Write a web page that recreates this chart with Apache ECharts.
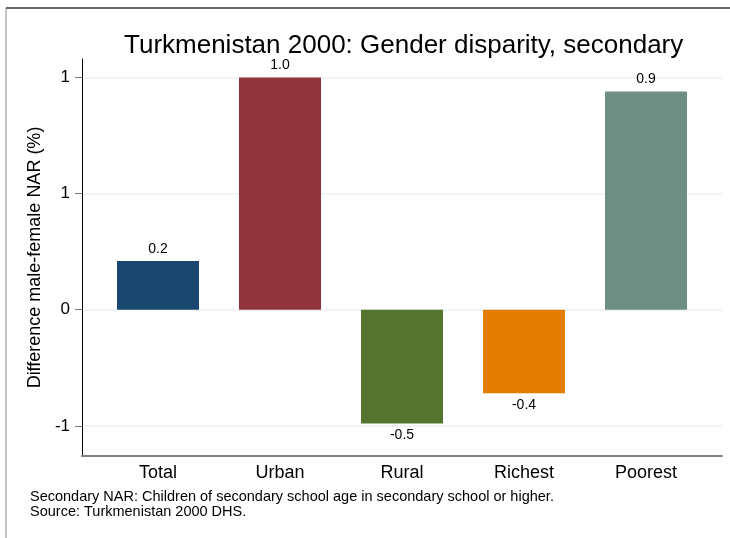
<!DOCTYPE html>
<html>
<head>
<meta charset="utf-8">
<script src="https://cdn.jsdelivr.net/npm/echarts@6/dist/echarts.min.js"></script>
<style>
    html, body { margin: 0; padding: 0; background: #fff; }
    #chart { width: 730px; height: 538px; }
</style>
</head>
<body>
<div id="chart"></div>
<script>
// data
const categories = ['Total', 'Urban', 'Rural', 'Richest', 'Poorest'];
const disparity = [0.21, 1.0, -0.49, -0.36, 0.94];
const barColors = ['#1a476f', '#90353b', '#55752f', '#e37e00', '#6e8e84'];
// Stata prints the half steps rounded, so 0.5 shows as "1"
const tickValues = [-0.5, 0, 0.5, 1];
const tickLabels = ['-1', '0', '1', '1'];

const font = "'Liberation Sans', Arial, sans-serif";
const yMin = -0.63;
const yMax = 1.08;

const chart = echarts.init(document.getElementById('chart'));

const barData = disparity.map((v, i) => ({
    value: v,
    itemStyle: { color: barColors[i] },
    label: { position: v >= 0 ? 'top' : 'bottom' }
}));

chart.setOption({
    animation: false,
    title: {
        text: 'Turkmenistan 2000: Gender disparity, secondary',
        left: 119,
        top: 28,
        textStyle: { fontFamily: font, fontSize: 26, fontWeight: 'normal', color: '#000' }
    },
    grid: [
        { left: 82, right: 8, top: 59, bottom: 82 },
        { left: 97, right: 23, top: 59, bottom: 82 }
    ],
    xAxis: [
        {
            gridIndex: 0, type: 'value', min: 0, max: 1,
            axisLine: { show: true, onZero: false, lineStyle: { color: '#808080', width: 2 } },
            axisTick: { show: false }, axisLabel: { show: false }, splitLine: { show: false }
        },
        {
            gridIndex: 1, type: 'category', data: categories,
            axisLine: { show: false }, axisTick: { show: false },
            axisLabel: { fontFamily: font, fontSize: 18, color: '#000', margin: 8 }
        }
    ],
    yAxis: [
        {
            gridIndex: 0, type: 'value', min: yMin, max: yMax,
            name: 'Difference male-female NAR (%)',
            nameLocation: 'middle', nameGap: 38,
            nameTextStyle: { fontFamily: font, fontSize: 18, color: '#000' },
            axisLine: { show: true, onZero: false, lineStyle: { color: '#000', width: 1 } },
            axisTick: { show: true, length: 7, customValues: tickValues, lineStyle: { color: '#777' } },
            axisLabel: {
                customValues: tickValues,
                fontFamily: font, fontSize: 17, color: '#000', margin: 12,
                formatter: v => tickLabels[tickValues.indexOf(v)]
            },
            splitLine: { show: true, lineStyle: { color: '#eaf2f3', width: 1.5 } }
        },
        {
            gridIndex: 1, type: 'value', min: yMin, max: yMax, show: false,
            splitLine: { show: false }
        }
    ],
    series: [
        {
            type: 'bar',
            xAxisIndex: 1, yAxisIndex: 1,
            barWidth: 82,
            data: barData,
            label: {
                show: true, distance: 5,
                fontFamily: font, fontSize: 14, color: '#000',
                formatter: p => p.value.toFixed(1)
            }
        }
    ],
    graphic: [
        { type: 'line', shape: { x1: 6, y1: 8, x2: 730, y2: 8 }, style: { stroke: '#333', lineWidth: 1.5 } },
        { type: 'line', shape: { x1: 6, y1: 8, x2: 6, y2: 538 }, style: { stroke: '#888', lineWidth: 1 } },
        {
            type: 'text', left: 30, top: 489,
            style: { text: 'Secondary NAR: Children of secondary school age in secondary school or higher.', font: '14.5px ' + font, fill: '#000' }
        },
        {
            type: 'text', left: 30, top: 504,
            style: { text: 'Source: Turkmenistan 2000 DHS.', font: '14.5px ' + font, fill: '#000' }
        }
    ]
});
</script>
</body>
</html>
